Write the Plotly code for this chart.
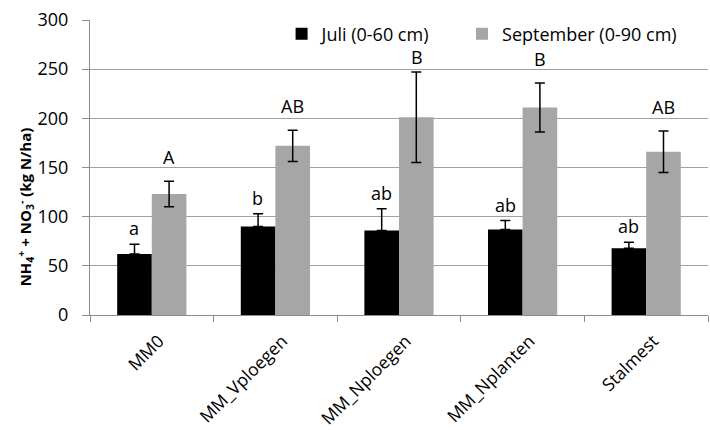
import plotly.graph_objects as go

categories = ["MM0", "MM_Vploegen", "MM_Nploegen", "MM_Nplanten", "Stalmest"]
juli = [62, 90, 86, 87, 68]
juli_err = [10, 13, 22, 9, 6]
sept = [123, 172, 201, 211, 166]
sept_err = [13, 16, 46, 25, 21]
juli_letters = ["a", "b", "ab", "ab", "ab"]
sept_letters = ["A", "AB", "B", "B", "AB"]
y_ticks = [0, 50, 100, 150, 200, 250, 300]

FONT = "Open Sans"
fig = go.Figure()
fig.add_bar(x=categories, y=juli, name="Juli (0-60 cm)", marker_color="#000000",
            marker_line_width=0, legend="legend",
            error_y=dict(type="data", array=juli_err, arrayminus=[0]*5, color="#000000",
                         thickness=1.5, width=5))
fig.add_bar(x=categories, y=sept, name="September (0-90 cm)", marker_color="#a6a6a6",
            marker_line_width=0, legend="legend2",
            error_y=dict(type="data", array=sept_err, color="#000000",
                         thickness=1.5, width=5))

sept_shift = [10, 10, 1, 10, 10]
for i, c in enumerate(categories):
    fig.add_annotation(x=c, y=juli[i] + juli_err[i], text=juli_letters[i], showarrow=False,
                       xshift=-17.5, yanchor="bottom", yshift=2,
                       font=dict(family=FONT, size=18, color="#000000"))
    fig.add_annotation(x=c, y=sept[i] + sept_err[i], text=sept_letters[i], showarrow=False,
                       xshift=17.5, yanchor="bottom", yshift=sept_shift[i],
                       font=dict(family=FONT, size=18, color="#000000"))

# y-axis title as rotated annotation
fig.add_annotation(xref="paper", yref="paper", x=0, y=0.365, xshift=-65,
                   text="<b>NH<sub>4</sub><sup>+</sup> + NO<sub>3</sub><sup>-</sup> (kg N/ha)</b>",
                   textangle=-90, showarrow=False, xanchor="center", yanchor="middle",
                   font=dict(family=FONT, size=15, color="#000000"))

leg_common = dict(orientation="h", y=1.015, xanchor="left", yanchor="top",
                  bgcolor="rgba(0,0,0,0)", font=dict(family=FONT, size=18, color="#000000"),
                  itemwidth=30)
fig.update_layout(
    width=710, height=430,
    margin=dict(l=90, r=2, t=20, b=115, autoexpand=False),
    plot_bgcolor="white", paper_bgcolor="white",
    barmode="group", bargap=0.44, bargroupgap=0,
    font=dict(family=FONT, size=16, color="#000000"),
    legend=dict(x=0.31, **leg_common),
    legend2=dict(x=0.602, **leg_common),
    showlegend=True,
)
fig.update_xaxes(showline=True, linecolor="#8c8c8c", linewidth=1, ticks="outside",
                 tickson="boundaries", ticklen=6, tickcolor="#8c8c8c", tickangle=-45,
                 automargin=False, ticklabelstandoff=8, ticklabelshift=7,
                 tickfont=dict(family=FONT, size=17.5, color="#000000"))
fig.update_yaxes(range=[0, 300], tickvals=y_ticks, showline=True, linecolor="#8c8c8c",
                 linewidth=1, ticks="outside", ticklen=7, tickcolor="#8c8c8c",
                 showgrid=True, gridcolor="#a0a0a0", gridwidth=1, zeroline=False,
                 automargin=False, ticklabelstandoff=10,
                 tickfont=dict(family=FONT, size=18, color="#000000"))

fig.write_html("out.html", config={"displayModeBar": False},
               post_script="document.body.style.margin='0';")
